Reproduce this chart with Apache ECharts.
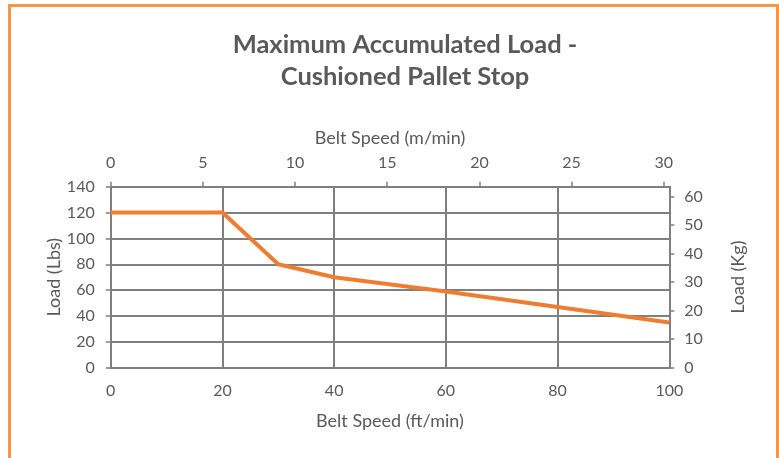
<!DOCTYPE html>
<html>
<head>
<meta charset="utf-8">
<style>
  html, body { margin: 0; padding: 0; background: #ffffff; }
  #chart { width: 779px; height: 458px; }
</style>
<script src="https://cdn.jsdelivr.net/npm/echarts@6/dist/echarts.min.js"></script>
</head>
<body>
<div id="chart"></div>
<script>
// Belt speed (ft/min) and the maximum accumulated load (lbs) at that speed
const speedFtMin = [0, 20, 30, 40, 60, 80, 100];
const loadLbs = [120, 120, 80, 70, 59, 47, 35];

// Tick labels of the four axes
const ftTicks = [0, 20, 40, 60, 80, 100];
const mTicks = [0, 5, 10, 15, 20, 25, 30];
const lbsTicks = [0, 20, 40, 60, 80, 100, 120, 140];
const kgTicks = [0, 10, 20, 30, 40, 50, 60];

const titleLines = ['Maximum Accumulated Load -', 'Cushioned Pallet Stop'];

const FONT = 'Lato, "Open Sans", sans-serif';
const TEXT = '#595959';
const GRID = '#7f7f7f';

const chart = echarts.init(document.getElementById('chart'), null, { renderer: 'canvas' });

const labelStyle = { color: TEXT, fontFamily: FONT, fontSize: 16 };
const nameStyle = { color: TEXT, fontFamily: FONT, fontSize: 18 };
const axisLine = { show: true, onZero: false, lineStyle: { color: GRID, width: 2 } };
const tickStyle = { color: GRID, width: 1.5 };

chart.setOption({
  animation: false,
  backgroundColor: '#ffffff',
  graphic: [
    {
      type: 'rect',
      shape: { x: 9.5, y: 5.5, width: 768, height: 520 },
      style: { fill: 'none', stroke: '#F79646', lineWidth: 3 },
      silent: true
    },
    {
      type: 'text',
      x: 405,
      y: 61,
      style: {
        text: titleLines.join('\n'),
        fontFamily: FONT,
        fontWeight: 'bold',
        fontSize: 25.5,
        lineHeight: 32,
        fill: TEXT,
        align: 'center',
        verticalAlign: 'middle'
      }
    }
  ],
  grid: { left: 110.7, right: 109.7, top: 186.7, bottom: 90.3, containLabel: false },
  xAxis: [
    {
      type: 'value',
      position: 'bottom',
      min: 0, max: 100, interval: 20,
      name: 'Belt Speed (ft/min)',
      nameLocation: 'middle',
      nameGap: 44,
      nameTextStyle: nameStyle,
      axisLine: axisLine,
      axisTick: { show: false },
      axisLabel: Object.assign({ margin: 15, customValues: ftTicks }, labelStyle),
      splitLine: { show: true, lineStyle: { color: GRID, width: 2 } }
    },
    {
      type: 'value',
      position: 'top',
      min: 0, max: 30.3, interval: 5,
      name: 'Belt Speed (m/min)',
      nameLocation: 'middle',
      nameGap: 40,
      nameTextStyle: nameStyle,
      axisLine: axisLine,
      axisTick: { show: true, inside: false, length: 5, customValues: mTicks, lineStyle: tickStyle },
      axisLabel: Object.assign({ margin: 16, customValues: mTicks }, labelStyle),
      splitLine: { show: false }
    }
  ],
  yAxis: [
    {
      type: 'value',
      position: 'left',
      min: 0, max: 140, interval: 20,
      name: 'Load (Lbs)',
      nameLocation: 'middle',
      nameGap: 48,
      nameMoveOverlap: false,
      nameTextStyle: nameStyle,
      axisLine: axisLine,
      axisTick: { show: true, inside: false, length: 5, customValues: lbsTicks, lineStyle: tickStyle },
      axisLabel: Object.assign({ margin: 16, customValues: lbsTicks }, labelStyle),
      splitLine: { show: true, lineStyle: { color: GRID, width: 2 } }
    },
    {
      type: 'value',
      position: 'right',
      min: 0, max: 63.5, interval: 10,
      name: 'Load (Kg)',
      nameLocation: 'middle',
      nameGap: 60,
      nameTextStyle: nameStyle,
      axisLine: axisLine,
      axisTick: { show: true, inside: false, length: 5, customValues: kgTicks, lineStyle: tickStyle },
      axisLabel: Object.assign({ margin: 15, customValues: kgTicks }, labelStyle),
      splitLine: { show: false }
    }
  ],
  series: [
    {
      type: 'line',
      xAxisIndex: 0,
      yAxisIndex: 0,
      data: speedFtMin.map((s, i) => [s, loadLbs[i]]),
      showSymbol: false,
      symbol: 'none',
      lineStyle: { color: '#ED7D31', width: 4 },
      itemStyle: { color: '#ED7D31' }
    }
  ]
});
</script>
</body>
</html>
